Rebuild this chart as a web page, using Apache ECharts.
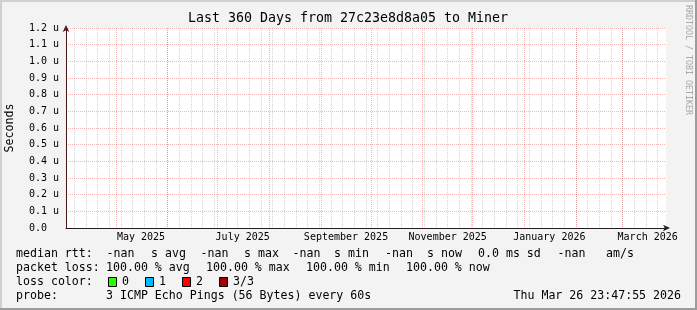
<!DOCTYPE html>
<html><head><meta charset="utf-8">
<script src="https://cdn.jsdelivr.net/npm/echarts@6/dist/echarts.min.js"></script>
<style>html,body{margin:0;padding:0;background:#f3f3f3}#c{width:697px;height:310px}</style>
</head><body><div id="c"></div>
<script>
// ---- data ----
const titleText = 'Last 360 Days from 27c23e8d8a05 to Miner';
const endTime = Date.UTC(2026, 2, 26, 23, 47, 55);
const spanDays = 360;
const monthStarts = ['2025-05-01','2025-06-01','2025-07-01','2025-08-01','2025-09-01','2025-10-01',
                     '2025-11-01','2025-12-01','2026-01-01','2026-02-01','2026-03-01'];
const monthLabels = ['May 2025','July 2025','September 2025','November 2025','January 2026','March 2026'];
const monthLabelDates = ['2025-05-16','2025-07-16','2025-09-16','2025-11-16','2026-01-16','2026-03-16'];
const yMin = 0, yMax = 1.2, yStep = 0.1;      // micro-seconds
const sampleDates = ['2025-05-01','2025-08-01','2025-11-01','2026-02-01'];
const medianRtt = [null, null, null, null];   // all -nan (100% loss)
const lossNames = ['0','1','2','3/3'];
const lossColors = ['#26ff00','#00b8ff','#ff0000','#a00000'];
const medianLine = ['median rtt:','-nan','s avg','-nan','s max','-nan','s min','-nan','s now','0.0 ms sd','-nan','am/s'];
const lossLine = ['packet loss:','100.00 % avg','100.00 % max','100.00 % min','100.00 % now'];
const probeLine = ['probe:','3 ICMP Echo Pings (56 Bytes) every 60s'];
const stampText = 'Thu Mar 26 23:47:55 2026';
const yName = 'Seconds';
const watermark = 'RRDTOOL / TOBI OETIKER';

// ---- derived ----
const DAY = 86400000;
const startTime = endTime - spanDays * DAY;
const monthTimes = monthStarts.map(d => Date.parse(d));
const labelTimes = monthLabelDates.map(d => Date.parse(d));
const weekTimes = [];
{
  let t = Date.parse('2025-04-06'); // first Sunday in range
  while (t < endTime) { weekTimes.push(t); t += 7 * DAY; }
}
const seriesData = sampleDates.map((d, i) => [Date.parse(d), medianRtt[i]]);

const FONT = 'DejaVu Sans Mono';
const LF = 11.6;
function txt(x, y, s, extra) {
  return Object.assign({ type: 'text', x: x, y: y, silent: true,
    style: Object.assign({ text: s, fontFamily: FONT, fontSize: LF, fill: '#000', verticalAlign: 'middle' }, extra || {}) });
}
const gx1 = [16,106.5,151,200.5,244,292.5,334,385,427,478,557.5,606];
const gx2 = [16,106,206,306,406];
const boxX = [108,145,182,219];
const graphics = [
  { type: 'rect', shape: { x: 0, y: 0, width: 697, height: 2 }, style: { fill: '#d0d0d0' }, silent: true },
  { type: 'rect', shape: { x: 0, y: 0, width: 2, height: 310 }, style: { fill: '#d0d0d0' }, silent: true },
  { type: 'rect', shape: { x: 0, y: 308, width: 697, height: 2 }, style: { fill: '#9c9c9c' }, silent: true },
  { type: 'rect', shape: { x: 695, y: 0, width: 2, height: 310 }, style: { fill: '#9c9c9c' }, silent: true },
  txt(348, 19, titleText, { fontSize: 13.3, align: 'center' }),
  { type: 'text', x: 688, y: 60, rotation: -Math.PI / 2, silent: true,
    style: { text: watermark, fontFamily: FONT, fontSize: 8.3, fill: '#a8a8a8', align: 'center', verticalAlign: 'middle' } },
];
medianLine.forEach((s, i) => graphics.push(txt(gx1[i], 254, s)));
lossLine.forEach((s, i) => graphics.push(txt(gx2[i], 268, s)));
graphics.push(txt(16, 282, 'loss color:'));
lossNames.forEach((s, i) => {
  graphics.push({ type: 'rect', silent: true, shape: { x: boxX[i] + 0.5, y: 277.5, width: 8, height: 9 },
    style: { fill: lossColors[i], stroke: '#000', lineWidth: 1 } });
  graphics.push(txt(boxX[i] + 14, 282, s));
});
graphics.push(txt(16, 296, probeLine[0]));
graphics.push(txt(106, 296, probeLine[1]));
graphics.push(txt(681, 296, stampText, { align: 'right' }));

const chart = echarts.init(document.getElementById('c'), null, { renderer: 'canvas' });
chart.setOption({
  backgroundColor: '#f3f3f3',
  animation: false,
  grid: { left: 66, right: 31, top: 28, bottom: 82, show: true, backgroundColor: '#ffffff', borderWidth: 0,
    containLabel: false, outerBoundsMode: 'none' },
  xAxis: [
    { type: 'value', position: 'top', min: startTime, max: endTime, z: 1,
      axisLine: { show: false }, axisLabel: { show: false },
      axisTick: { show: false, customValues: weekTimes },
      splitLine: { show: true, lineStyle: { color: 'rgba(143,143,143,0.38)', width: 1, type: [1, 1] } } },
    { type: 'value', position: 'bottom', min: startTime, max: endTime, z: 3,
      axisLine: { show: true, onZero: false, symbol: ['none', 'arrow'], symbolSize: [5, 7], symbolOffset: [0, 4],
        lineStyle: { color: '#1f1f1f', width: 1 } },
      axisTick: { show: false, customValues: monthTimes },
      axisLabel: { show: true, customValues: labelTimes, margin: 4, fontFamily: FONT, fontSize: 10, color: '#000',
        formatter: v => { const i = labelTimes.indexOf(v); return i >= 0 ? monthLabels[i] : ''; } },
      splitLine: { show: true, lineStyle: { color: 'rgba(222,79,79,0.42)', width: 1, type: [1, 1] } } }
  ],
  yAxis: { type: 'value', min: yMin, max: yMax, interval: yStep, z: 2,
    name: yName, nameLocation: 'middle', nameRotate: 90, nameGap: 50,
    nameTextStyle: { fontFamily: FONT, fontSize: LF, color: '#000' },
    axisLine: { show: true, symbol: ['none', 'arrow'], symbolSize: [5, 7], symbolOffset: [0, 3],
      lineStyle: { color: '#4a1818', width: 1 } },
    axisTick: { show: false },
    axisLabel: { align: 'left', margin: 37, fontFamily: FONT, fontSize: 10, color: '#000',
      formatter: v => v === 0 ? '0.0' : v.toFixed(1) + ' u' },
    splitLine: { show: true, lineStyle: { color: 'rgba(222,79,79,0.42)', width: 1, type: [1, 1] } } },
  series: [{ type: 'line', xAxisIndex: 1, data: seriesData, showSymbol: false, lineStyle: { color: '#26ff00' } }],
  graphic: graphics
});
</script></body></html>
